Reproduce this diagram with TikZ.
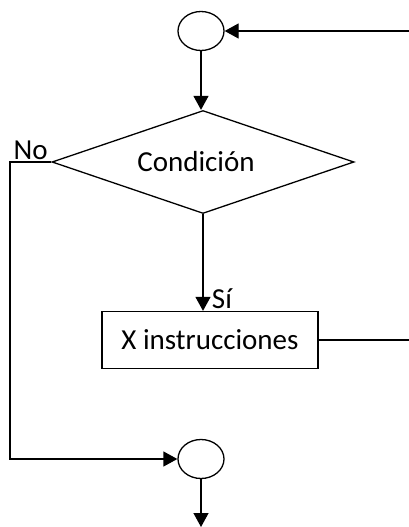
\documentclass[tikz,border=0pt]{standalone}
\usepackage{fontspec}
\setmainfont{Carlito}
\usetikzlibrary{shapes.geometric,arrows.meta}
\begin{document}
\begin{tikzpicture}[x=1pt,y=-1pt,
  line width=1.3pt,
  txt/.style={font=\fontsize{29}{34}\selectfont},
  conn/.style={draw,line width=1.3pt},
  arr/.style={conn,-{Triangle[length=14pt,width=15pt]}},
  joint/.style={draw,ellipse,minimum width=46pt,minimum height=39pt,inner sep=0pt},
  test/.style={draw,diamond,minimum width=302pt,minimum height=103pt,aspect=3,inner sep=0pt,txt},
  task/.style={draw,rectangle,minimum width=216pt,minimum height=57pt,inner sep=0pt,txt}]
  \useasboundingbox (0,0) rectangle (409,527);
  % shapes
  \node[joint] (top) at (201,31) {};
  \node[test] (cond) at (203,162) {\raisebox{2pt}{Condición}\hspace*{14pt}};
  \node[task] (body) at (210,340) {X instrucciones};
  \node[joint] (bot) at (201,459) {};
  % free ends of the connectors
  \coordinate (inR) at (409,31);
  \coordinate (outR) at (409,340);
  \coordinate (cornerA) at (10,162);
  \coordinate (cornerB) at (10,459);
  \coordinate (exit) at (201,527);
  % connectors
  \draw[arr] (inR) -- (top.east);
  \draw[arr] (top.south) -- (top.south |- cond.north);
  \draw[arr] (cond.south) -- (body.north -| cond.south) node[pos=0.87,right=5pt,txt] {Sí};
  \draw[conn] (body.east) -- (outR);
  \draw[arr] (cond.west) -- (cornerA) -- (cornerB) -- (bot.west);
  \draw[arr] (bot.south) -- (exit);
  \node[txt,anchor=base west,inner sep=0pt] (nolabel) at (13,159) {No};
\end{tikzpicture}
\end{document}
